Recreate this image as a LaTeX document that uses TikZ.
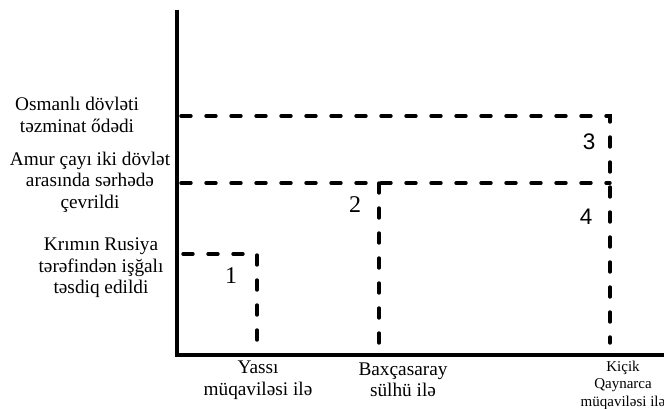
\documentclass[tikz,border=0pt]{standalone}
\usepackage{fontspec}
\setmainfont{Liberation Serif}
\newfontfamily\arialf{Liberation Sans}
\begin{document}
\begin{tikzpicture}[x=1pt,y=-1pt,
  axisline/.style={line width=3.2pt},
  dline/.style={line width=3.4pt, line cap=round, dash pattern=on 10pt off 15pt},
  lbl/.style={font=\fontsize{19.3}{21.5}\selectfont, align=center, inner sep=0pt},
  smlbl/.style={font=\fontsize{15}{17.5}\selectfont, align=center, inner sep=0pt},
  numlbl/.style={font=\fontsize{24}{24}\selectfont, inner sep=0pt},
  snumlbl/.style={font=\arialf\fontsize{22.5}{22.5}\selectfont, inner sep=0pt}]
\useasboundingbox (0,0) rectangle (664,408);
% axes
\coordinate (ytop) at (177,10);
\coordinate (orig) at (177,355);
\coordinate (xend) at (664,355);
\draw[axisline] (ytop) -- (orig) -- (xend);
% dashed lines
\coordinate (a1) at (183,254);
\coordinate (b1) at (257,254);
\coordinate (c1) at (257,343);
\draw[dline] (a1) -- (b1) -- (c1);
\coordinate (a2) at (181,183);
\coordinate (b2) at (610,183);
\coordinate (m2) at (379,183);
\coordinate (c2) at (379,348);
\draw[dline] (a2) -- (b2);
\draw[dline] (m2) -- (c2);
\coordinate (a3) at (181,116);
\coordinate (b3) at (610,116);
\coordinate (c3) at (610,343);
\draw[dline] (a3) -- (b3) -- (c3);
% numbers
\node[numlbl] (n1) at (231,276) {1};
\node[numlbl] (n2) at (355,205) {2};
\node[snumlbl] (n3) at (589,142) {3};
\node[snumlbl] (n4) at (586,217) {4};
% left labels
\node[lbl] (osm) at (77,115) {Osmanlı dövləti\\təzminat ődədi};
\node[lbl] (amur) at (90,182) {Amur çayı iki dövlət\\arasında sərhədə\\çevrildi};
\node[lbl] (krim) at (101,268) {Krımın Rusiya\\tərəfindən işğalı\\təsdiq edildi};
% bottom labels
\node[lbl] (yas) at (258,380) {Yassı\\müqaviləsi ilə};
\node[lbl] (bax) at (403,380) {Baxçasaray\\sülhü ilə};
\node[smlbl] (kic) at (623,385) {Kiçik\\Qaynarca\\müqaviləsi ilə};
\end{tikzpicture}
\end{document}
